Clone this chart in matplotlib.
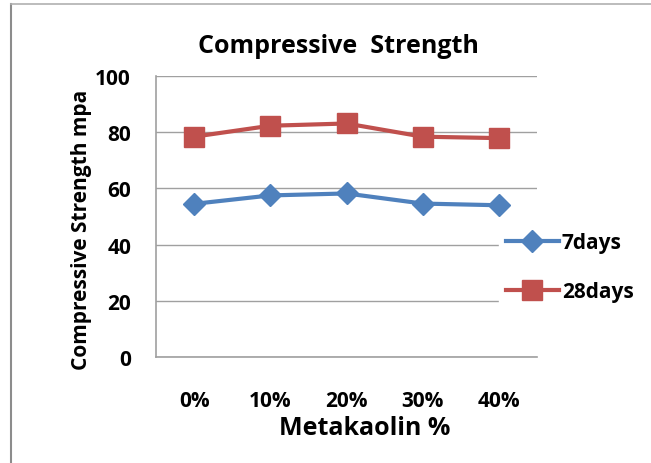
import numpy as np
import matplotlib.pyplot as plt
from matplotlib.lines import Line2D

# compressive strength (MPa) vs metakaolin replacement
mk_levels = ['0%', '10%', '20%', '30%', '40%']
strength_7d = [54.5, 57.5, 58.2, 54.6, 54.0]
strength_28d = [78.4, 82.3, 83.1, 78.4, 77.9]

blue = '#4F81BD'
red = '#C0504D'
grid_col = '#A0A0A0'
font = 'Open Sans'

W, H = 651, 464
fig = plt.figure(figsize=(W / 100, H / 100), dpi=100)
ax = fig.add_axes([156 / W, 1 - 358 / H, (537 - 156) / W, (358 - 77) / H])

x = np.arange(len(mk_levels))
ax.plot(x, strength_7d, color=blue, lw=3, marker='D', ms=11,
        label='7days', solid_joinstyle='round')
ax.plot(x, strength_28d, color=red, lw=3, marker='s', ms=14,
        label='28days', solid_joinstyle='round')

ax.set_xlim(-0.5, len(mk_levels) - 0.5)
ax.set_ylim(0, 100)
ax.set_yticks(range(0, 101, 20))
ax.set_xticks(x)
ax.set_xticklabels(mk_levels)
ax.yaxis.grid(True, color=grid_col, lw=1)
ax.set_axisbelow(True)
ax.tick_params(length=0, labelsize=15)
ax.tick_params(axis='x', pad=24)
ax.tick_params(axis='y', pad=18)
for lab in ax.get_xticklabels() + ax.get_yticklabels():
    lab.set_fontweight('bold')
    lab.set_family(font)

for side in ['top', 'right']:
    ax.spines[side].set_visible(False)
for side in ['left', 'bottom']:
    ax.spines[side].set_color(grid_col)
    ax.spines[side].set_linewidth(1.2)

fig.text(338 / W, 1 - 53 / H, 'Compressive  Strength', ha='center', va='baseline',
         fontsize=18, fontweight='bold', family=font)
fig.text(365 / W, 1 - 435 / H, 'Metakaolin %', ha='center', va='baseline',
         fontsize=18, fontweight='bold', family=font)
fig.text(82 / W, 1 - 230 / H, 'Compressive Strength mpa', ha='center', va='center',
         rotation=90, fontsize=15, fontweight='bold', family=font)

leg = ax.legend(loc='center left', bbox_to_anchor=(489 / W, 1 - 268 / H),
                bbox_transform=fig.transFigure, frameon=True, framealpha=1,
                edgecolor='white', fancybox=False, handlelength=2.55,
                handletextpad=0.15, labelspacing=1.35, borderpad=0.3,
                prop={'family': font, 'weight': 'bold', 'size': 15})

# outer chart border (left and top edges)
fig.add_artist(Line2D([11 / W, 11 / W], [0, 1 - 5 / H], color='#8C8C8C', lw=1.5))
fig.add_artist(Line2D([11 / W, 1], [1 - 5 / H, 1 - 5 / H], color='#B0B0B0', lw=1.2))

fig.savefig('out.png', dpi=100)
